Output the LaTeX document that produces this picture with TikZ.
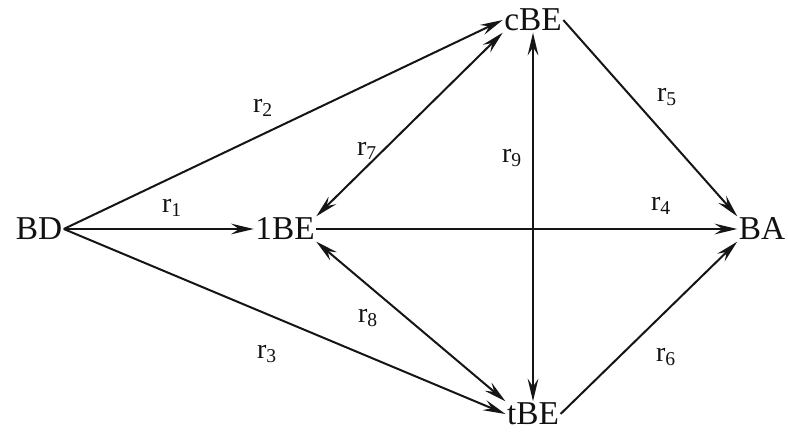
\documentclass[tikz,border=0pt]{standalone}
\usepackage{fontspec}
\setmainfont{Liberation Serif}
\usetikzlibrary{arrows.meta}
\definecolor{NetLine}{HTML}{151515}
\definecolor{NetText}{HTML}{111111}

\begin{document}
\begin{tikzpicture}[x=0.75pt,y=-0.75pt,
    species/.style={text=NetText,inner sep=1pt,font=\fontsize{25}{28}\selectfont},
    rate/.style={text=NetText,font=\fontsize{21}{24}\selectfont},
    flux/.style={NetLine,line width=1.5pt,-{Stealth[length=17pt,width=8pt,inset=6pt]}},
    dflux/.style={NetLine,line width=1.5pt,{Stealth[length=17pt,width=8pt,inset=6pt]}-{Stealth[length=17pt,width=8pt,inset=6pt]}}]
      \useasboundingbox (0,0) rectangle (788,433);
      \node[species] (bd) at (39,229) {BD};
      \node[species] (lbe) at (285,229) {1BE};
      \node[species] (cbe) at (533,20) {cBE};
      \node[species] (tbe) at (533,414) {tBE};
      \node[species] (ba) at (762,229) {BA};
      \draw[flux] (bd.east) -- (lbe.west);
      \draw[flux] (bd.east) -- (cbe.west);
      \draw[flux] (bd.east) -- (tbe.west);
      \draw[flux] (lbe.east) -- (ba.west);
      \draw[flux] (cbe.east) -- (ba.north west);
      \draw[flux] (tbe.east) -- (ba.south west);
      \draw[dflux] (lbe.north east) -- (cbe.south west);
      \draw[dflux] (lbe.south east) -- (tbe.north west);
      \draw[dflux] (cbe.south) -- (tbe.north);
      \node[rate] (r1) at (172,208) {r\textsubscript{1}};
      \node[rate] (r2) at (263,108) {r\textsubscript{2}};
      \node[rate] (r3) at (267,354) {r\textsubscript{3}};
      \node[rate] (r4) at (661,206) {r\textsubscript{4}};
      \node[rate] (r5) at (667,97) {r\textsubscript{5}};
      \node[rate] (r6) at (666,357) {r\textsubscript{6}};
      \node[rate] (r7) at (367,151) {r\textsubscript{7}};
      \node[rate] (r8) at (368,318) {r\textsubscript{8}};
      \node[rate] (r9) at (512,158) {r\textsubscript{9}};
    \end{tikzpicture}
\end{document}
